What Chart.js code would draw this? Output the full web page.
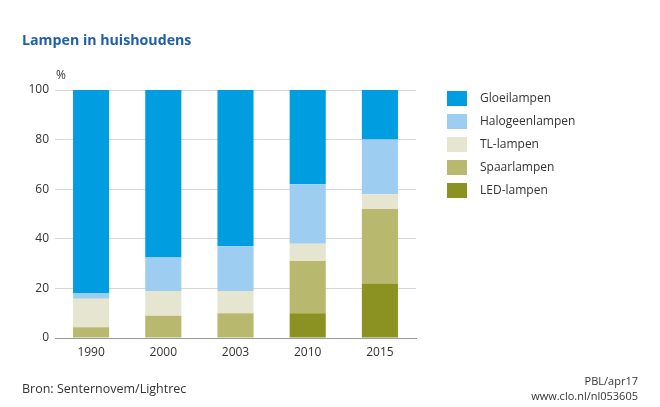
<!DOCTYPE html>
<html><head><meta charset="utf-8">
<script src="https://cdn.jsdelivr.net/npm/chart.js@4"></script>
<style>
html,body{margin:0;padding:0;background:#fff;}
#wrap{position:relative;width:660px;height:407px;font-family:"Open Sans",sans-serif;color:#333;}
canvas{position:absolute;left:0;top:0;}
.t{position:absolute;white-space:nowrap;}
#title{left:22px;top:30px;font-size:14.2px;font-weight:bold;color:#1f5ea8;}
#pct{left:56px;top:66px;font-size:12px;}
#src{left:22px;top:380px;font-size:12.5px;}
#pbl{right:22px;top:373px;font-size:11px;text-align:right;line-height:15px;}
#legend{position:absolute;left:447px;top:90px;width:200px;}
.li{height:23px;position:relative;white-space:nowrap;}
.sw{position:absolute;left:0;top:1px;width:20px;height:15px;}
.lt{position:absolute;left:33px;top:-1px;font-size:12px;white-space:nowrap;}
</style></head><body>
<div id="wrap">
<canvas id="c" width="660" height="407"></canvas>
<div class="t" id="title">Lampen in huishoudens</div>
<div class="t" id="pct">%</div>
<div id="legend"></div>
<div class="t" id="src">Bron: Senternovem/Lightrec</div>
<div class="t" id="pbl">PBL/apr17<br>www.clo.nl/nl053605</div>
</div>
<script>
const categories = ["1990","2000","2003","2010","2015"];
const seriesNames = ["LED-lampen","Spaarlampen","TL-lampen","Halogeenlampen","Gloeilampen"];
const led      = [0, 0, 0, 10, 22];
const spaar    = [4.3, 9, 10, 21, 30];
const tl       = [11.5, 10, 9, 7, 6];
const halogeen = [2.3, 13.5, 18, 24, 22];
const gloei    = [81.9, 67.5, 63, 38, 20];
const yTicks   = [0, 20, 40, 60, 80, 100];

const colors = ["#8c9221","#b8b86f","#e5e5d0","#9ecdf2","#009ee0"];
const values = [led, spaar, tl, halogeen, gloei];

const datasets = seriesNames.map((n,i)=>({
  label:n, data:values[i], backgroundColor:colors[i],
  barPercentage:0.5, categoryPercentage:1.0, borderWidth:0
}));

const leg = document.getElementById('legend');
for (let i = seriesNames.length-1; i>=0; i--) {
  const d = document.createElement('div'); d.className='li';
  d.innerHTML = '<div class="sw" style="background:'+colors[i]+'"></div><div class="lt">'+seriesNames[i]+'</div>';
  leg.appendChild(d);
}

new Chart(document.getElementById('c'), {
  type:'bar',
  data:{labels:categories, datasets},
  options:{
    responsive:false, animation:false,
    layout:{padding:{left:0, top:90, right:244, bottom:39}},
    plugins:{legend:{display:false}, tooltip:{enabled:false}},
    scales:{
      x:{stacked:true,
         grid:{display:false, drawTicks:false},
         border:{display:true,color:'#9a9a9a',width:1},
         ticks:{color:'#333',font:{family:'"Open Sans", sans-serif',size:12},padding:7},
         afterFit:s=>{s.height=30;}
      },
      y:{stacked:true, min:0, max:100,
         afterBuildTicks:s=>{s.ticks=yTicks.map(v=>({value:v}));},
         grid:{color:'#d6d6d6', lineWidth:1, drawTicks:false},
         border:{display:false},
         ticks:{color:'#333',font:{family:'"Open Sans", sans-serif',size:12},padding:6},
         afterFit:s=>{s.width=55;}
      }
    }
  }
});
</script>
</body></html>
